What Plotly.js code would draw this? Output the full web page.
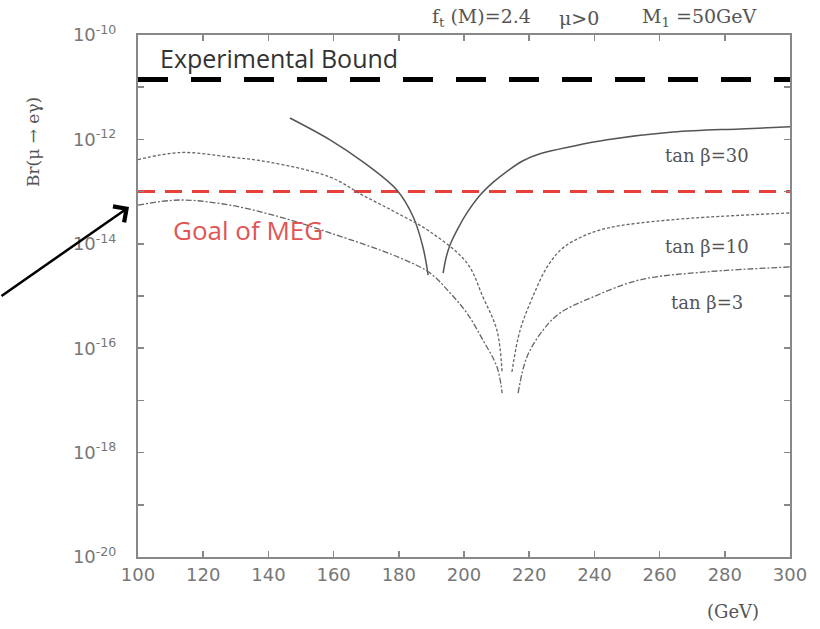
<!DOCTYPE html>
<html>
<head>
<meta charset="utf-8">
<script src="https://cdn.plot.ly/plotly-3.0.1.min.js"></script>
<style>html,body{margin:0;padding:0;background:#fff;}#chart{width:820px;height:629px;}</style>
</head>
<body>
<div id="chart"></div>
<script>
// ---- data ----
const xRange = [100, 300];
const yDecades = [-20, -19, -18, -17, -16, -15, -14, -13, -12, -11, -10];
const xTicks = [100, 120, 140, 160, 180, 200, 220, 240, 260, 280, 300];

const expBound = 1.4e-11;
const megGoal = 1.0e-13;

// tan beta = 30 (solid), two arms around the cancellation
const t30_x = [146.6, 158.9, 169.0, 179.4, 184.4, 187.4, 189.0, null,
               193.6, 194.5, 195.7, 198.2, 200.9, 204.9, 208.9, 213.2, 218.1, 223.3, 233.4, 243.9, 264.1, 284.7, 300];
const t30_y = [2.57e-12, 9.8e-13, 3.7e-13, 1.07e-13, 3.3e-14, 8.7e-15, 2.5e-15, null,
               2.75e-15, 5.4e-15, 9.5e-15, 2.0e-14, 3.9e-14, 8.5e-14, 1.5e-13, 2.45e-13, 3.9e-13, 5.3e-13, 7.4e-13, 9.8e-13, 1.38e-12, 1.59e-12, 1.74e-12];

// tan beta = 10
const t10_x = [100, 112.9, 128.2, 140.0, 158.9, 169.0, 179.4, 189.6, 200.9, 205.8, 210.1, 211.7, null,
               214.7, 217.2, 221.2, 225.5, 230.0, 236.0, 244.0, 264.1, 300];
const t10_y = [4.1e-13, 5.6e-13, 4.6e-13, 3.7e-13, 1.9e-13, 8.5e-14, 3.9e-14, 1.7e-14, 4.3e-15, 9.6e-16, 2.2e-16, 3.3e-17, null,
               3.5e-17, 2.2e-16, 1.0e-15, 3.6e-15, 8.0e-15, 1.35e-14, 2.0e-14, 2.9e-14, 3.9e-14];

// tan beta = 3
const t3_x = [100, 112.9, 128.2, 143.6, 158.9, 180.0, 189.6, 195.7, 200.9, 205.8, 210.1, 211.7, null,
              216.6, 219.3, 224.2, 229.4, 239.6, 254.0, 274.5, 300];
const t3_y = [5.5e-14, 6.9e-14, 5.5e-14, 3.25e-14, 1.62e-14, 5.5e-15, 2.75e-15, 1.15e-15, 4.7e-16, 1.43e-16, 4.4e-17, 1.38e-17, null,
              1.38e-17, 6.8e-17, 2.2e-16, 4.7e-16, 9.6e-16, 2.04e-15, 2.9e-15, 3.6e-15];

// ---- figure ----
const yTickVals = yDecades.map(d => Math.pow(10, d));
const yTickText = yDecades.map(d => (d % 2 === 0) ? ('10<sup>' + d + '</sup>') : '');

const traces = [
  {x: xRange, y: [expBound, expBound], mode: 'lines', line: {color: '#000', width: 5, dash: '30px,23px'}, hoverinfo: 'skip'},
  {x: xRange, y: [megGoal, megGoal], mode: 'lines', line: {color: '#e8403a', width: 3, dash: '17px,10px'}, hoverinfo: 'skip'},
  {x: t30_x, y: t30_y, mode: 'lines', connectgaps: false, line: {color: '#555', width: 1.5, shape: 'spline', smoothing: 1}},
  {x: t10_x, y: t10_y, mode: 'lines', connectgaps: false, line: {color: '#666', width: 1.3, dash: '3px,2px', shape: 'spline', smoothing: 1}},
  {x: t3_x, y: t3_y, mode: 'lines', connectgaps: false, line: {color: '#666', width: 1.3, dash: '6px,2px,2px,2px', shape: 'spline', smoothing: 1}}
];

const serif = 'DejaVu Serif, serif';
const lbl = {family: serif, size: 18, color: '#555'};

const layout = {
  width: 820, height: 629,
  margin: {l: 138, r: 30, t: 35, b: 72},
  paper_bgcolor: '#fff', plot_bgcolor: '#fff',
  showlegend: false,
  xaxis: {
    range: xRange, tickvals: xTicks, ticktext: xTicks.map(String),
    ticks: 'inside', ticklen: 6, tickwidth: 1.5, tickcolor: '#888',
    showline: true, linecolor: '#888', linewidth: 2, mirror: 'ticks',
    showgrid: false, zeroline: false,
    tickfont: {family: 'DejaVu Sans, sans-serif', size: 18, color: '#777'}
  },
  yaxis: {
    type: 'log', range: [-20, -10], tickvals: yTickVals, ticktext: yTickText,
    ticks: 'inside', ticklen: 6, tickwidth: 1.5, tickcolor: '#888',
    showline: true, linecolor: '#888', linewidth: 2, mirror: 'ticks',
    showgrid: false, zeroline: false, ticklabelstandoff: 16,
    tickfont: {family: 'DejaVu Sans, sans-serif', size: 18, color: '#777'}
  },
  annotations: [
    {xref: 'paper', yref: 'paper', x: (158 - 138) / 652, y: 0.956, xanchor: 'left', yanchor: 'middle', showarrow: false,
     text: 'Experimental Bound', font: {family: 'Open Sans, sans-serif', size: 25, color: '#333'}},
    {xref: 'paper', yref: 'paper', x: (248 - 138) / 652, y: 0.626, xanchor: 'center', yanchor: 'middle', showarrow: false,
     text: 'Goal of MEG', font: {family: 'Open Sans, sans-serif', size: 26, color: '#e05555'}},
    {xref: 'paper', yref: 'paper', x: 0.873, y: 0.770, xanchor: 'center', yanchor: 'middle', showarrow: false, text: 'tan β=30', font: lbl},
    {xref: 'paper', yref: 'paper', x: 0.873, y: 0.594, xanchor: 'center', yanchor: 'middle', showarrow: false, text: 'tan β=10', font: lbl},
    {xref: 'paper', yref: 'paper', x: 0.873, y: 0.487, xanchor: 'center', yanchor: 'middle', showarrow: false, text: 'tan β=3', font: lbl},
    {xref: 'paper', yref: 'paper', x: (430 - 138) / 652, y: 1.0326, xanchor: 'left', yanchor: 'middle', showarrow: false,
     text: 'f<sub>t</sub> (M)=2.4', font: {family: serif, size: 19, color: '#555'}},
    {xref: 'paper', yref: 'paper', x: (557 - 138) / 652, y: 1.0326, xanchor: 'left', yanchor: 'middle', showarrow: false,
     text: 'μ&gt;0', font: {family: serif, size: 19, color: '#555'}},
    {xref: 'paper', yref: 'paper', x: (640 - 138) / 652, y: 1.0326, xanchor: 'left', yanchor: 'middle', showarrow: false,
     text: 'M<sub>1</sub> =50GeV', font: {family: serif, size: 19, color: '#555'}},
    {xref: 'paper', yref: 'paper', x: (733 - 138) / 652, y: (557 - 611) / 522, xanchor: 'center', yanchor: 'middle', showarrow: false,
     text: '(GeV)', font: {family: serif, size: 18, color: '#555'}},
    {xref: 'paper', yref: 'paper', x: (33 - 138) / 652, y: (557 - 142) / 522, xanchor: 'center', yanchor: 'middle', showarrow: false,
     textangle: -90, text: 'Br(μ → eγ)', font: {family: serif, size: 17, color: '#555'}},
    {xref: 'paper', yref: 'paper', x: (129 - 138) / 652, y: (557 - 207) / 522, text: '', showarrow: true,
     arrowhead: 4, arrowsize: 1.5, arrowwidth: 2.5, arrowcolor: '#000', ax: -129, ay: 90, standoff: 0}
  ]
};

Plotly.newPlot('chart', traces, layout, {displayModeBar: false, staticPlot: true});
</script>
</body>
</html>
